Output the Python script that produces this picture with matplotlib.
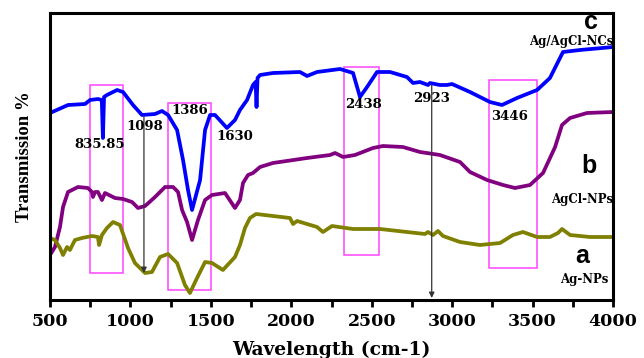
import numpy as np
import matplotlib
matplotlib.use("Agg")
import matplotlib.pyplot as plt
from matplotlib.patches import Rectangle

# FTIR spectra (wavenumber, transmission in arbitrary units)
wn_c = [500, 612, 718, 749, 798, 822, 829, 836, 854, 917, 954, 1016, 1072, 1153, 1196, 1234,
        1290, 1327, 1358, 1383, 1433, 1464, 1495, 1526, 1600, 1650, 1681, 1725, 1762, 1778,
        1784, 1790, 1806, 1886, 2054, 2098, 2160, 2303, 2384, 2427, 2471, 2533, 2614, 2719,
        2757, 2800, 2850, 2862, 2924, 2968, 2999, 3111, 3235, 3310, 3403, 3528, 3608, 3689,
        3795, 4000]
t_c = [187, 195, 196, 200, 201, 200, 162, 203, 205, 210, 208, 195, 185, 186, 189, 185,
       170, 140, 110, 90, 120, 170, 185, 185, 172, 180, 190, 200, 215, 218,
       193, 222, 225, 227, 228, 224, 228, 231, 227, 203, 213, 228, 228, 223,
       217, 218, 215, 217, 215, 215, 216, 208, 198, 195, 202, 210, 222, 248,
       250, 253]

wn_b = [500, 531, 562, 581, 612, 674, 736, 761, 767, 780, 798, 823, 842, 904, 954, 1010,
        1047, 1091, 1153, 1215, 1265, 1296, 1321, 1352, 1383, 1420, 1464, 1507, 1588, 1650,
        1681, 1700, 1731, 1762, 1806, 1886, 2098, 2241, 2272, 2322, 2396, 2508, 2570, 2694,
        2800, 2924, 3049, 3111, 3217, 3316, 3391, 3484, 3565, 3640, 3683, 3733, 3838, 4000]
t_b = [45, 53, 73, 93, 108, 113, 112, 108, 103, 108, 108, 100, 107, 102, 101, 98,
       92, 94, 103, 113, 113, 108, 90, 78, 60, 80, 100, 105, 107, 92,
       100, 117, 125, 127, 133, 137, 142, 145, 147, 143, 145, 152, 154, 153,
       148, 145, 138, 128, 120, 115, 112, 115, 127, 153, 175, 182, 187, 188]

wn_a = [500, 531, 562, 581, 606, 624, 655, 699, 761, 798, 805, 823, 854, 892, 935, 985,
        1028, 1091, 1134, 1184, 1234, 1290, 1339, 1370, 1414, 1464, 1507, 1575, 1650, 1681,
        1712, 1743, 1781, 1886, 1992, 2011, 2036, 2160, 2197, 2253, 2384, 2552, 2719, 2831,
        2850, 2881, 2912, 2943, 3049, 3173, 3298, 3378, 3440, 3528, 3608, 3658, 3683, 3733,
        3857, 4000]
t_a = [62, 60, 52, 45, 53, 50, 60, 62, 64, 63, 55, 65, 72, 78, 75, 52,
       37, 27, 28, 43, 46, 37, 15, 7, 22, 38, 37, 30, 43, 55,
       72, 82, 86, 84, 82, 76, 79, 73, 68, 74, 71, 71, 68, 66,
       68, 65, 69, 64, 58, 55, 57, 65, 68, 63, 63, 67, 71, 65,
       63, 63]

# peak labels: text, x, y
peak_txt = ["835.85", "1098", "1386", "1630", "2438", "2923", "3446"]
peak_x = [811, 1091, 1370, 1650, 2452, 2869, 3360]
peak_y = [155, 174, 190, 164, 195, 202, 184]

# highlighted regions (x0, x1, y0, y1)
box_x0 = [749, 1235, 2328, 3229]
box_x1 = [954, 1499, 2547, 3529]
box_y0 = [27, 10, 45, 32]
box_y1 = [215, 197, 233, 220]

# arrows (x, y_top, y_bottom)
arr_x = [1084, 2873]
arr_top = [183, 215]
arr_bot = [27, 2]

fig = plt.figure(figsize=(6.44, 3.58), dpi=100)
ax = fig.add_axes([50/644, 58/358, 563/644, 287/358])

ax.plot(wn_c, t_c, color="#0000ff", lw=2.7)
ax.plot(wn_b, t_b, color="#800080", lw=2.7)
ax.plot(wn_a, t_a, color="#7f7f00", lw=2.7)

for x0, x1, y0, y1 in zip(box_x0, box_x1, box_y0, box_y1):
    ax.add_patch(Rectangle((x0, y0), x1 - x0, y1 - y0, fill=False,
                           edgecolor="#ff44ff", lw=1.1, zorder=1))

for x, yt, yb in zip(arr_x, arr_top, arr_bot):
    ax.annotate("", xy=(x, yb), xytext=(x, yt),
                arrowprops=dict(arrowstyle="-|>", color="#333333", lw=0.9,
                                mutation_scale=8, shrinkA=0, shrinkB=0))

for s, x, y in zip(peak_txt, peak_x, peak_y):
    ax.text(x, y, s, ha="center", va="center", fontsize=9.5,
            family="DejaVu Serif", fontweight="bold")

# sample letters and names
ax.text(3860, 278, "c", fontsize=18, fontweight="bold", family="Liberation Sans",
        ha="center", va="center")
ax.text(4000, 259, "Ag/AgCl-NCs", fontsize=8.5, fontweight="bold", family="DejaVu Serif",
        ha="right", va="center")
ax.text(3850, 134, "b", fontsize=18, fontweight="bold", family="Liberation Sans",
        ha="center", va="center")
ax.text(4000, 101, "AgCl-NPs", fontsize=8.5, fontweight="bold", family="DejaVu Serif",
        ha="right", va="center")
ax.text(3810, 44, "a", fontsize=18, fontweight="bold", family="Liberation Sans",
        ha="center", va="center")
ax.text(3970, 21, "Ag-NPs", fontsize=8.5, fontweight="bold", family="DejaVu Serif",
        ha="right", va="center")

ax.set_xlim(500, 4000)
ax.set_ylim(0, 287)
ax.set_xticks(np.arange(500, 4001, 500))
ax.set_xticks(np.arange(750, 4000, 500), minor=True)
ax.set_yticks([])
ax.tick_params(axis="x", which="both", direction="out", length=5, width=2, pad=4)
for lab in ax.get_xticklabels():
    lab.set_fontfamily("DejaVu Serif")
    lab.set_fontweight("bold")
    lab.set_fontsize(12.5)
for sp in ax.spines.values():
    sp.set_linewidth(2.2)

ax.set_xlabel("Wavelength (cm-1)", family="DejaVu Serif", fontweight="bold",
              fontsize=13.5, labelpad=8)
ax.set_ylabel("Transmission %", family="Liberation Serif", fontweight="bold",
              fontsize=13.5, labelpad=12)

fig.savefig("out.png", dpi=100)
